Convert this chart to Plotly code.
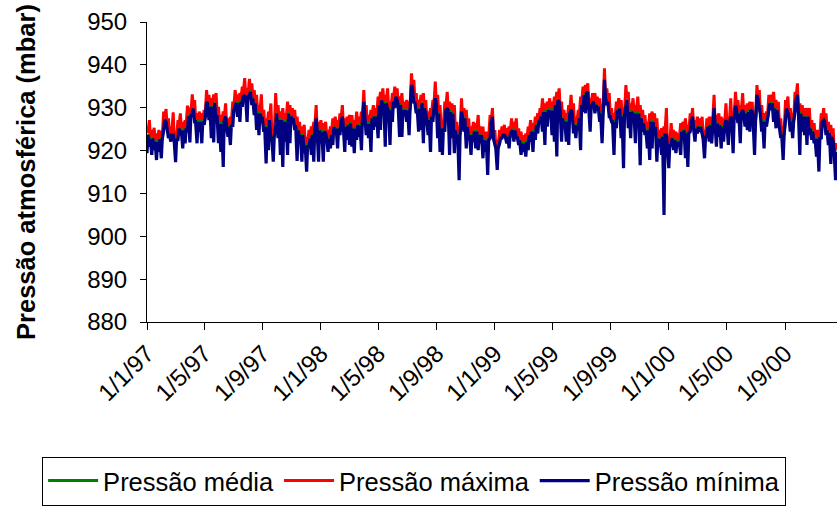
import pandas as pd
import plotly.graph_objects as go

# Leituras diárias a cada 5 dias a partir de 1/1/1997 (dias de pico)
# e 2 dias depois de cada pico (dias intermediários).
inicio = pd.Timestamp("1997-01-01")
passo = 5

# Pressão máxima nos dias de pico (mbar)
max_picos = [
    925.6, 927.1, 924.8, 925.3, 924.0, 924.8, 924.6, 929.1, 929.7, 927.5, 925.6, 928.9, 924.4, 927.1, 928.7,
    926.7, 927.1, 930.5, 930.0, 933.1, 931.8, 928.7, 929.1, 928.7, 929.5, 934.1, 933.0, 932.2, 933.1, 933.4,
    930.2, 928.3, 929.1, 931.0, 927.5, 927.9, 931.4, 934.1, 933.1, 933.4, 934.9, 936.9, 934.5, 936.7, 935.7,
    934.1, 933.0, 930.6, 933.1, 929.5, 927.5, 929.1, 931.0, 925.2, 933.4, 930.6, 929.1, 929.9,
    928.7, 931.4, 930.6, 929.9, 929.5, 927.9, 926.7, 925.6, 926.0, 923.2, 924.8, 925.6, 926.7, 930.6, 926.7,
    927.1, 926.4, 926.7, 924.8, 925.6, 927.5, 927.9, 927.1, 928.7, 930.6, 927.5, 927.9, 928.3, 928.3, 927.1,
    929.1, 927.9, 929.1, 934.1, 930.6, 928.3, 929.5, 930.6, 929.9, 932.6, 933.7, 934.5, 933.0, 934.5, 931.4,
    933.4, 934.9, 934.5, 932.6, 933.4, 931.4, 931.8, 931.4, 938.0, 936.5, 933.4, 931.8, 933.0,
    933.4, 931.8, 929.1, 929.9, 931.8, 936.1, 933.0, 930.6, 927.1, 931.4, 933.7, 931.4, 931.0, 930.6, 926.7,
    925.6, 932.2, 929.9, 929.5, 927.5, 925.6, 926.7, 926.4, 928.3, 925.6, 925.6, 924.4, 924.4, 928.3, 929.9,
    924.8, 922.5, 924.8, 925.6, 926.0, 925.2, 925.6, 927.5, 926.7, 927.5, 925.2, 924.4, 923.6, 924.0, 925.6,
    927.1, 926.4, 927.9, 928.7, 929.9, 932.2, 931.0, 931.4, 932.2, 931.4, 932.6, 933.7, 934.5,
    931.4, 929.5, 928.7, 930.6, 933.0, 931.0, 927.9, 929.5, 932.6, 934.9, 935.3, 935.7, 932.2, 933.4, 933.4,
    932.6, 932.2, 930.6, 939.2, 934.5, 933.4, 929.9, 928.7, 931.4, 932.2, 931.8, 930.0, 935.3, 933.7, 931.0,
    932.2, 930.6, 932.6, 930.6, 929.5, 928.3, 926.7, 928.7, 929.1, 928.7, 927.5, 924.8, 925.2, 925.6, 929.9,
    923.2, 926.4, 924.8, 924.4, 924.0, 926.4, 926.7, 927.5, 926.0, 928.7, 929.9, 927.1, 927.9,
    927.5, 927.9, 924.8, 927.5, 927.9, 927.9, 933.0, 928.3, 928.7, 927.9, 927.5, 931.0, 927.9, 932.2, 929.1,
    933.7, 931.8, 930.6, 933.4, 930.6, 931.0, 931.4, 931.4, 928.7, 935.3, 934.1, 930.6, 928.7, 929.1, 933.0,
    933.0, 933.7, 931.8, 931.4, 927.5, 925.6, 931.8, 932.6, 929.9, 928.7, 933.7, 935.7, 931.0, 930.6, 929.9,
    929.9, 929.9, 927.1, 926.4, 924.8, 924.8, 928.7, 929.9, 928.7, 926.7, 926.0, 925.2, 921.7,
]

# Pressão máxima nos dias intermediários (mbar)
max_inter = [
    924.1, 923.3, 923.3, 922.5, 922.5, 923.1, 923.1, 927.6, 926.0, 924.1, 924.1, 922.9, 922.9, 925.6, 925.2,
    925.2, 925.6, 928.5, 928.5, 930.3, 927.2, 927.2, 927.2, 927.2, 928.0, 931.5, 930.7, 930.7, 931.6, 928.7,
    926.8, 926.8, 927.6, 926.0, 926.0, 926.4, 929.9, 931.6, 931.6, 931.9, 933.4, 933.0, 933.0, 934.2, 932.6,
    931.5, 929.1, 929.1, 928.0, 926.0, 926.0, 927.6, 923.7, 923.7, 929.1, 927.6, 927.6, 927.2,
    927.2, 929.1, 928.4, 928.0, 926.4, 925.2, 924.1, 924.1, 921.7, 921.7, 923.3, 924.1, 925.2, 925.2, 925.2,
    924.9, 924.9, 923.3, 923.3, 924.1, 926.0, 925.6, 925.6, 927.2, 926.0, 926.0, 926.4, 926.8, 925.6, 925.6,
    926.4, 926.4, 927.6, 929.1, 926.8, 926.8, 928.0, 928.4, 928.4, 931.1, 932.2, 931.5, 931.5, 929.9, 929.9,
    931.9, 933.0, 931.1, 931.1, 929.9, 929.9, 929.9, 929.9, 935.0, 931.9, 930.3, 930.3, 931.5,
    930.3, 927.6, 927.6, 928.4, 930.3, 931.5, 929.1, 925.6, 925.6, 929.9, 929.9, 929.5, 929.1, 925.2, 924.1,
    924.1, 928.4, 928.0, 926.0, 924.1, 924.1, 924.9, 924.9, 924.1, 924.1, 922.9, 922.9, 922.9, 926.8, 923.3,
    921.0, 921.0, 923.3, 924.1, 923.7, 923.7, 924.1, 925.2, 925.2, 923.7, 922.9, 922.1, 922.1, 922.5, 924.1,
    924.9, 924.9, 926.4, 927.2, 928.4, 929.5, 929.5, 929.9, 929.9, 929.9, 931.1, 932.2, 929.9,
    928.0, 927.2, 927.2, 929.1, 929.5, 926.4, 926.4, 928.0, 931.1, 933.4, 933.8, 930.7, 930.7, 931.9, 931.1,
    930.7, 929.1, 929.1, 933.0, 931.9, 928.4, 927.2, 927.2, 929.9, 930.3, 928.5, 928.5, 932.2, 929.5, 929.5,
    929.1, 929.1, 929.1, 928.0, 926.8, 925.2, 925.2, 927.2, 927.2, 926.0, 923.3, 923.3, 923.7, 924.1, 921.7,
    921.7, 923.3, 922.9, 922.5, 922.5, 924.9, 925.2, 924.5, 924.5, 927.2, 925.6, 925.6, 926.0,
    926.0, 923.3, 923.3, 926.0, 926.4, 926.4, 926.8, 926.8, 926.4, 926.0, 926.0, 926.4, 926.4, 927.6, 927.6,
    930.3, 929.1, 929.1, 929.1, 929.1, 929.5, 929.9, 927.2, 927.2, 932.6, 929.1, 927.2, 927.2, 927.6, 931.5,
    931.5, 930.3, 929.9, 926.0, 924.1, 924.1, 930.3, 928.4, 927.2, 927.2, 932.2, 929.5, 929.1, 928.4, 928.4,
    928.4, 925.6, 924.9, 923.3, 923.3, 923.3, 927.2, 927.2, 925.2, 924.5, 923.7, 920.2, 920.2,
]

# Pressão mínima nos dias de pico (mbar)
min_picos = [
    919.4, 920.9, 919.0, 920.1, 917.8, 919.7, 918.2, 924.8, 926.7, 922.9, 922.1, 923.6, 917.3, 922.5, 923.6,
    920.5, 921.7, 924.4, 921.9, 928.7, 926.7, 921.7, 924.4, 921.7, 926.0, 931.4, 927.1, 922.9, 921.9, 926.7,
    921.7, 919.7, 916.2, 927.9, 923.2, 921.3, 925.6, 930.6, 927.9, 926.7, 930.2, 932.6, 926.7, 933.0, 930.6,
    928.3, 924.8, 923.6, 927.5, 924.4, 917.0, 920.1, 922.1, 917.4, 925.6, 922.9, 919.0, 916.2,
    922.1, 919.0, 921.7, 927.1, 924.8, 917.6, 922.9, 917.4, 919.4, 915.1, 920.5, 919.0, 917.4, 927.5, 917.4,
    921.7, 917.4, 924.0, 919.7, 920.5, 921.3, 924.0, 920.5, 923.6, 927.9, 919.7, 922.5, 921.3, 920.9, 919.4,
    922.5, 923.2, 920.1, 931.4, 923.6, 922.9, 919.7, 924.8, 925.6, 922.9, 924.8, 930.6, 920.9, 929.5, 921.3,
    926.7, 929.9, 931.8, 923.2, 923.2, 928.3, 926.7, 923.6, 935.3, 931.0, 928.7, 924.4, 924.8,
    921.7, 928.7, 923.6, 919.7, 926.7, 932.2, 922.9, 919.7, 919.0, 924.4, 929.9, 919.0, 922.9, 919.4, 922.1,
    913.1, 929.1, 924.4, 920.5, 922.5, 919.0, 922.1, 920.5, 920.1, 921.7, 918.2, 919.7, 914.3, 922.9, 927.9,
    921.7, 915.5, 921.7, 922.9, 923.6, 921.7, 920.5, 924.4, 922.1, 922.9, 921.3, 919.0, 919.7, 918.6, 920.1,
    922.1, 919.7, 922.5, 924.0, 927.1, 924.4, 921.3, 925.6, 928.3, 923.6, 922.1, 918.6, 931.4,
    922.1, 925.2, 922.1, 921.3, 929.5, 924.0, 922.9, 924.8, 920.1, 929.1, 928.7, 933.7, 924.4, 931.0, 928.7,
    929.9, 926.7, 921.7, 936.5, 930.6, 927.9, 926.7, 919.0, 925.2, 927.5, 922.9, 915.9, 930.6, 925.2, 922.9,
    928.3, 921.7, 926.0, 916.6, 924.4, 923.6, 920.5, 917.8, 920.5, 923.6, 917.4, 920.9, 919.0, 905.0, 923.6,
    915.9, 921.3, 920.1, 919.4, 920.9, 919.0, 922.5, 918.2, 916.2, 924.4, 927.9, 922.1, 924.0,
    924.4, 923.2, 918.2, 924.0, 922.1, 921.7, 929.9, 920.9, 923.2, 920.5, 922.1, 927.1, 921.3, 927.9, 919.4,
    930.6, 926.4, 921.7, 929.5, 925.6, 924.8, 924.4, 929.1, 919.0, 933.0, 929.5, 924.4, 920.5, 925.6, 928.3,
    929.5, 926.7, 925.2, 927.1, 922.9, 917.8, 927.5, 928.7, 924.4, 922.9, 929.1, 933.0, 919.0, 924.4, 923.6,
    921.3, 923.6, 922.5, 921.7, 918.6, 915.1, 922.9, 927.1, 923.6, 921.3, 916.9, 922.1, 913.1,
]

# Pressão mínima nos dias intermediários (mbar)
min_inter = [
    923.6, 922.8, 922.8, 922.0, 922.0, 922.6, 922.6, 927.1, 925.5, 923.6, 923.6, 922.4, 922.4, 925.1, 924.7,
    924.7, 925.1, 928.0, 928.0, 929.8, 926.7, 926.7, 926.7, 926.7, 927.5, 931.0, 930.2, 930.2, 931.1, 928.2,
    926.3, 926.3, 927.1, 925.5, 925.5, 925.9, 929.4, 931.1, 931.1, 931.4, 932.9, 932.5, 932.5, 933.7, 932.1,
    931.0, 928.6, 928.6, 927.5, 925.5, 925.5, 927.1, 923.2, 923.2, 928.6, 927.1, 927.1, 926.7,
    926.7, 928.6, 927.9, 927.5, 925.9, 924.7, 923.6, 923.6, 921.2, 921.2, 922.8, 923.6, 924.7, 924.7, 924.7,
    924.4, 924.4, 922.8, 922.8, 923.6, 925.5, 925.1, 925.1, 926.7, 925.5, 925.5, 925.9, 926.3, 925.1, 925.1,
    925.9, 925.9, 927.1, 928.6, 926.3, 926.3, 927.5, 927.9, 927.9, 930.6, 931.7, 931.0, 931.0, 929.4, 929.4,
    931.4, 932.5, 930.6, 930.6, 929.4, 929.4, 929.4, 929.4, 934.5, 931.4, 929.8, 929.8, 931.0,
    929.8, 927.1, 927.1, 927.9, 929.8, 931.0, 928.6, 925.1, 925.1, 929.4, 929.4, 929.0, 928.6, 924.7, 923.6,
    923.6, 927.9, 927.5, 925.5, 923.6, 923.6, 924.4, 924.4, 923.6, 923.6, 922.4, 922.4, 922.4, 926.3, 922.8,
    920.5, 920.5, 922.8, 923.6, 923.2, 923.2, 923.6, 924.7, 924.7, 923.2, 922.4, 921.6, 921.6, 922.0, 923.6,
    924.4, 924.4, 925.9, 926.7, 927.9, 929.0, 929.0, 929.4, 929.4, 929.4, 930.6, 931.7, 929.4,
    927.5, 926.7, 926.7, 928.6, 929.0, 925.9, 925.9, 927.5, 930.6, 932.9, 933.3, 930.2, 930.2, 931.4, 930.6,
    930.2, 928.6, 928.6, 932.5, 931.4, 927.9, 926.7, 926.7, 929.4, 929.8, 928.0, 928.0, 931.7, 929.0, 929.0,
    928.6, 928.6, 928.6, 927.5, 926.3, 924.7, 924.7, 926.7, 926.7, 925.5, 922.8, 922.8, 923.2, 923.6, 921.2,
    921.2, 922.8, 922.4, 922.0, 922.0, 924.4, 924.7, 924.0, 924.0, 926.7, 925.1, 925.1, 925.5,
    925.5, 922.8, 922.8, 925.5, 925.9, 925.9, 926.3, 926.3, 925.9, 925.5, 925.5, 925.9, 925.9, 927.1, 927.1,
    929.8, 928.6, 928.6, 928.6, 928.6, 929.0, 929.4, 926.7, 926.7, 932.1, 928.6, 926.7, 926.7, 927.1, 931.0,
    931.0, 929.8, 929.4, 925.5, 923.6, 923.6, 929.8, 927.9, 926.7, 926.7, 931.7, 929.0, 928.6, 927.9, 927.9,
    927.9, 925.1, 924.4, 922.8, 922.8, 922.8, 926.7, 926.7, 924.7, 924.0, 923.2, 919.7, 919.7,
]

# Pressão média nos dias intermediários (mbar)
media_inter = [
    923.9, 923.1, 923.1, 922.3, 922.3, 922.9, 922.9, 927.4, 925.8, 923.9, 923.9, 922.7, 922.7, 925.4, 925.0,
    925.0, 925.4, 928.3, 928.3, 930.1, 927.0, 927.0, 927.0, 927.0, 927.8, 931.3, 930.5, 930.5, 931.4, 928.5,
    926.6, 926.6, 927.4, 925.8, 925.8, 926.2, 929.7, 931.4, 931.4, 931.7, 933.2, 932.8, 932.8, 934.0, 932.4,
    931.3, 928.9, 928.9, 927.8, 925.8, 925.8, 927.4, 923.5, 923.5, 928.9, 927.4, 927.4, 927.0,
    927.0, 928.9, 928.2, 927.8, 926.2, 925.0, 923.9, 923.9, 921.5, 921.5, 923.1, 923.9, 925.0, 925.0, 925.0,
    924.7, 924.7, 923.1, 923.1, 923.9, 925.8, 925.4, 925.4, 927.0, 925.8, 925.8, 926.2, 926.6, 925.4, 925.4,
    926.2, 926.2, 927.4, 928.9, 926.6, 926.6, 927.8, 928.2, 928.2, 930.9, 932.0, 931.3, 931.3, 929.7, 929.7,
    931.7, 932.8, 930.9, 930.9, 929.7, 929.7, 929.7, 929.7, 934.8, 931.7, 930.1, 930.1, 931.3,
    930.1, 927.4, 927.4, 928.2, 930.1, 931.3, 928.9, 925.4, 925.4, 929.7, 929.7, 929.3, 928.9, 925.0, 923.9,
    923.9, 928.2, 927.8, 925.8, 923.9, 923.9, 924.7, 924.7, 923.9, 923.9, 922.7, 922.7, 922.7, 926.6, 923.1,
    920.8, 920.8, 923.1, 923.9, 923.5, 923.5, 923.9, 925.0, 925.0, 923.5, 922.7, 921.9, 921.9, 922.3, 923.9,
    924.7, 924.7, 926.2, 927.0, 928.2, 929.3, 929.3, 929.7, 929.7, 929.7, 930.9, 932.0, 929.7,
    927.8, 927.0, 927.0, 928.9, 929.3, 926.2, 926.2, 927.8, 930.9, 933.2, 933.6, 930.5, 930.5, 931.7, 930.9,
    930.5, 928.9, 928.9, 932.8, 931.7, 928.2, 927.0, 927.0, 929.7, 930.1, 928.3, 928.3, 932.0, 929.3, 929.3,
    928.9, 928.9, 928.9, 927.8, 926.6, 925.0, 925.0, 927.0, 927.0, 925.8, 923.1, 923.1, 923.5, 923.9, 921.5,
    921.5, 923.1, 922.7, 922.3, 922.3, 924.7, 925.0, 924.3, 924.3, 927.0, 925.4, 925.4, 925.8,
    925.8, 923.1, 923.1, 925.8, 926.2, 926.2, 926.6, 926.6, 926.2, 925.8, 925.8, 926.2, 926.2, 927.4, 927.4,
    930.1, 928.9, 928.9, 928.9, 928.9, 929.3, 929.7, 927.0, 927.0, 932.4, 928.9, 927.0, 927.0, 927.4, 931.3,
    931.3, 930.1, 929.7, 925.8, 923.9, 923.9, 930.1, 928.2, 927.0, 927.0, 932.0, 929.3, 928.9, 928.2, 928.2,
    928.2, 925.4, 924.7, 923.1, 923.1, 923.1, 927.0, 927.0, 925.0, 924.3, 923.5, 920.0, 920.0,
]

y_ticks = [880, 890, 900, 910, 920, 930, 940, 950]

n = len(max_picos)
dias_pico = [inicio + pd.Timedelta(days=passo * k) for k in range(n)]
dias_inter = [inicio + pd.Timedelta(days=passo * k + 2) for k in range(n)]

# Intercala dias de pico e intermediários em ordem cronológica
datas, serie_max, serie_min = [], [], []
for d0, d1, a, b, c, e in zip(dias_pico, dias_inter, max_picos, max_inter, min_picos, min_inter):
    datas += [d0, d1]
    serie_max += [a, b]
    serie_min += [c, e]

fonte = "Liberation Sans, Arial, sans-serif"

fig = go.Figure()
fig.add_trace(go.Scatter(x=dias_inter, y=media_inter, mode="lines", name="Pressão média",
                         line=dict(color="#008000", width=3)))
fig.add_trace(go.Scatter(x=datas, y=serie_max, mode="lines", name="Pressão máxima",
                         line=dict(color="#FF0000", width=3)))
fig.add_trace(go.Scatter(x=datas, y=serie_min, mode="lines", name="Pressão mínima",
                         line=dict(color="#000080", width=3.2)))

fig.update_layout(
    width=837, height=507,
    margin=dict(l=147, r=0, t=22, b=185),
    paper_bgcolor="white", plot_bgcolor="white",
    font=dict(family=fonte, size=24, color="black"),
    showlegend=True,
    legend=dict(orientation="h", xref="paper", yref="paper",
                x=-0.152, xanchor="left", y=-0.53, yanchor="middle",
                itemwidth=50,
                bordercolor="black", borderwidth=1, bgcolor="white",
                font=dict(family=fonte, size=25.5, color="black")),
)
fig.update_xaxes(
    type="date",
    range=[inicio, inicio + pd.Timedelta(days=1448)],
    tick0="1997-01-01", dtick="M4", tickformat="%-d/%-m/%y",
    tickangle=-45, ticks="outside", ticklen=7, tickcolor="black",
    showline=True, linecolor="black", linewidth=1,
    showgrid=False, zeroline=False,
    tickfont=dict(family=fonte, size=24, color="black"),
)
fig.update_yaxes(
    range=[880, 950], tickvals=y_ticks,
    ticks="outside", ticklen=6, tickcolor="black",
    showline=True, linecolor="black", linewidth=1,
    showgrid=False, zeroline=False,
    ticklabelstandoff=8,
    tickfont=dict(family=fonte, size=24, color="black"),
    title=dict(text="<b>Pressão atmosférica (mbar)</b>", standoff=44,
               font=dict(family=fonte, size=25.5, color="black")),
)

fig.write_html("out.html")
